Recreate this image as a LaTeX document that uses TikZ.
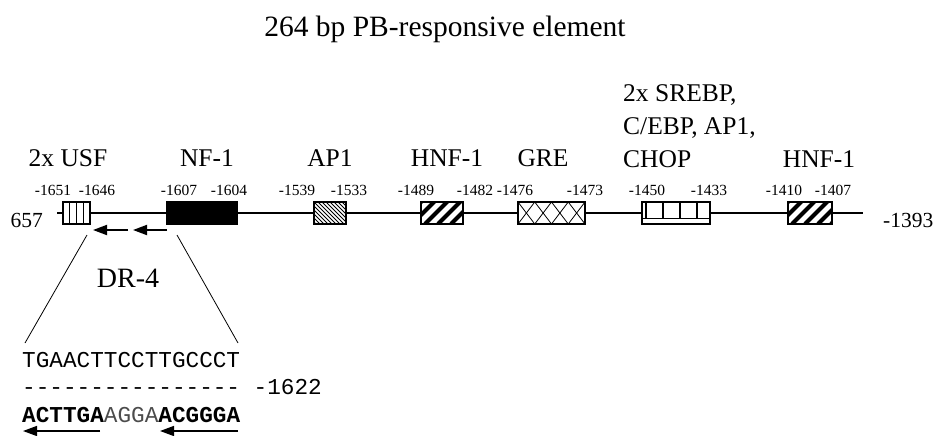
\documentclass[tikz,border=0pt]{standalone}
\usepackage{fontspec}
\setmainfont{Liberation Serif}
\setmonofont{Liberation Mono}
\usetikzlibrary{arrows.meta,calc}
\tikzset{
  titlelabel/.style={anchor=base,inner sep=0pt,font=\fontsize{29.5}{34}\selectfont},
  sitelabel/.style={anchor=base,inner sep=0pt,font=\fontsize{25.5}{33}\selectfont},
  poslabel/.style={anchor=base,inner sep=0pt,font=\fontsize{15.5}{18}\selectfont},
  endlabel/.style={inner sep=0pt,font=\fontsize{21.5}{24}\selectfont},
  seqtext/.style={anchor=base west,inner sep=0pt,font=\ttfamily\fontsize{22.7}{26}\selectfont},
  dnaline/.style={line width=1.3pt},
  zoomline/.style={line width=0.8pt},
  sitebox/.style={draw,fill=white,line width=1.3pt,inner sep=0pt,outer sep=0pt,minimum height=22pt},
  revarrow/.style={-{Triangle[length=14pt,width=10pt]},line width=1.8pt},
  usfbox/.style={sitebox,path picture={
    \foreach \f in {0.25,0.5,0.75}
      \draw[line width=1pt] ($(path picture bounding box.north west)!\f!(path picture bounding box.north east)$)
        -- ($(path picture bounding box.south west)!\f!(path picture bounding box.south east)$);}},
  nfbox/.style={sitebox,fill=black},
  apbox/.style={sitebox,path picture={
    \foreach \i in {-24,-20,...,32}
      \draw[line width=0.9pt] ([xshift=\i pt]path picture bounding box.north west) -- ++(26,26);}},
  hnfbox/.style={sitebox,path picture={
    \foreach \i in {-22,-9,...,48}
      \draw[line width=4pt] ([xshift=\i pt]path picture bounding box.south west) -- ++(26,-26);}},
  grebox/.style={sitebox,path picture={
    \draw[line width=0.8pt] (path picture bounding box.north west)
      -- ++(16.75,22) -- ++(16.75,-22) -- ++(16.75,22) -- ++(16.75,-22);
    \draw[line width=0.8pt] (path picture bounding box.south west)
      -- ++(16.75,-22) -- ++(16.75,22) -- ++(16.75,-22) -- ++(16.75,22);}},
  chopbox/.style={sitebox,path picture={
    \draw[line width=1pt] ([yshift=-16pt]path picture bounding box.north west)
      -- ([yshift=-16pt]path picture bounding box.north east);
    \foreach \i in {4,21,38,55}
      \draw[line width=1.3pt] ([xshift=\i pt]path picture bounding box.north west) -- ++(0,16);}}
}

\begin{document}
\begin{tikzpicture}[x=1pt,y=-1pt]
  \useasboundingbox (0,0) rectangle (937,436);

  % title
  \node[titlelabel] (title) at (445,37) {264 bp PB-responsive element};

  % promoter line with binding sites
  \coordinate (lineL) at (57,213);
  \coordinate (lineR) at (863,213);
  \node[usfbox,minimum width=27pt] (usf) at (76.5,213) {};
  \node[nfbox,minimum width=70pt] (nf1) at (202,213) {};
  \node[apbox,minimum width=32pt] (ap1) at (330,213) {};
  \node[hnfbox,minimum width=42pt] (hnf1) at (442,213) {};
  \node[grebox,minimum width=67pt] (gre) at (551.5,213) {};
  \node[chopbox,minimum width=68pt] (chop) at (676,213) {};
  \node[hnfbox,minimum width=44pt] (hnf2) at (810,213) {};
  \draw[dnaline] (lineL) -- (usf) (usf) -- (nf1) (nf1) -- (ap1) (ap1) -- (hnf1)
    (hnf1) -- (gre) (gre) -- (chop) (chop) -- (hnf2) (hnf2) -- (lineR);
  \node[endlabel,anchor=base east] (start) at (43,227) {657};
  \node[endlabel,anchor=base west] (stop) at (883,227) {-1393};

  % factor names
  \node[sitelabel] (usfname) at (68,166) {2x USF};
  \node[sitelabel] (nfname) at (207,166) {NF-1};
  \node[sitelabel] (apname) at (330,166) {AP1};
  \node[sitelabel] (hnfname) at (447,166) {HNF-1};
  \node[sitelabel] (grename) at (543,166) {GRE};
  \node[sitelabel,anchor=base west,align=left] (chopname) at (623,167)
    {2x SREBP,\\C/EBP, AP1,\\CHOP};
  \node[sitelabel] (hnfname2) at (819,167) {HNF-1};

  % positions
  \node[poslabel] (p1651) at (53,195) {-1651};
  \node[poslabel] (p1646) at (97,195) {-1646};
  \node[poslabel] (p1607) at (179,195) {-1607};
  \node[poslabel] (p1604) at (229,195) {-1604};
  \node[poslabel] (p1539) at (297,195) {-1539};
  \node[poslabel] (p1533) at (349,195) {-1533};
  \node[poslabel] (p1489) at (416,195) {-1489};
  \node[poslabel] (p1482) at (475,195) {-1482};
  \node[poslabel] (p1476) at (515,195) {-1476};
  \node[poslabel] (p1473) at (585,195) {-1473};
  \node[poslabel] (p1450) at (647,195) {-1450};
  \node[poslabel] (p1433) at (709,195) {-1433};
  \node[poslabel] (p1410) at (784,195) {-1410};
  \node[poslabel] (p1407) at (833,195) {-1407};

  % DR-4 half sites
  \coordinate (half1tail) at (128,230);
  \coordinate (half1tip) at (93,230);
  \coordinate (half2tail) at (167,230);
  \coordinate (half2tip) at (133,230);
  \draw[revarrow] (half1tail) -- (half1tip);
  \draw[revarrow] (half2tail) -- (half2tip);
  \node[sitelabel,font=\fontsize{28}{32}\selectfont] (drname) at (128,287) {DR-4};

  % sequence blow-up
  \node[seqtext] (seqtop) at (22,367) {TGAACTTCCTTGCCCT};
  \node[seqtext] (seqdash) at (22,394) {---------------- -1622};
  \node[seqtext] (seqbot) at (22,422)
    {\textbf{ACTTGA}\textcolor{black!70}{AGGA}\textbf{ACGGGA}};
  \coordinate (zoomLtop) at (87,235);
  \coordinate (zoomLbot) at (25,343);
  \coordinate (zoomRtop) at (177,235);
  \coordinate (zoomRbot) at (238,343);
  \draw[zoomline] (zoomLtop) -- (zoomLbot);
  \draw[zoomline] (zoomRtop) -- (zoomRbot);
  \coordinate (seqarr1tail) at (100,431);
  \coordinate (seqarr1tip) at (23,431);
  \coordinate (seqarr2tail) at (238,431);
  \coordinate (seqarr2tip) at (160,431);
  \draw[revarrow,line width=1.5pt] (seqarr1tail) -- (seqarr1tip);
  \draw[revarrow,line width=1.5pt] (seqarr2tail) -- (seqarr2tip);
\end{tikzpicture}
\end{document}
